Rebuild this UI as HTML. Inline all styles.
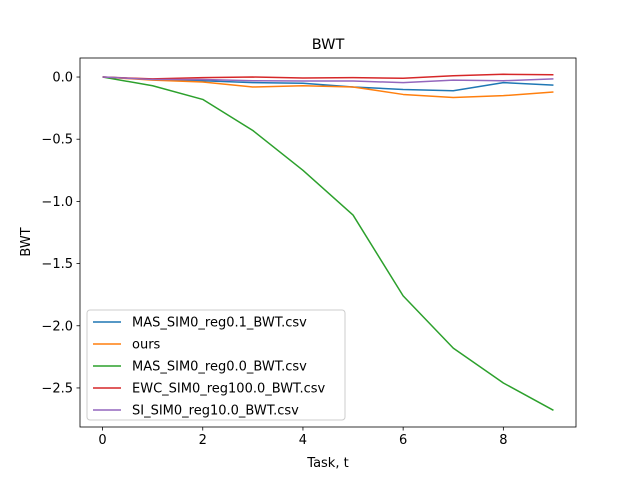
<!DOCTYPE html>
<html><head><meta charset="utf-8"><style>
body{margin:0;background:#fff;font-family:"Liberation Sans","DejaVu Sans",sans-serif}
svg text{font-family:"DejaVu Sans","Liberation Sans",sans-serif;font-size:13px;fill:#000}
</style></head><body>
<svg id="c" width="640" height="480">
<rect width="640" height="480" fill="#fff"/>
</svg>
<script>
const tasks=[0,1,2,3,4,5,6,7,8,9];
const seriesNames=["MAS_SIM0_reg0.1_BWT.csv","ours","MAS_SIM0_reg0.0_BWT.csv","EWC_SIM0_reg100.0_BWT.csv","SI_SIM0_reg10.0_BWT.csv"];
const masReg01=[0,-0.02,-0.03,-0.045,-0.05,-0.08,-0.1,-0.11,-0.045,-0.065];
const ours=[0,-0.025,-0.04,-0.08,-0.07,-0.08,-0.14,-0.165,-0.15,-0.12];
const masReg00=[0,-0.07,-0.18,-0.43,-0.75,-1.11,-1.76,-2.18,-2.46,-2.68];
const ewc=[0,-0.015,-0.005,0,-0.008,-0.005,-0.01,0.01,0.022,0.018];
const si=[0,-0.02,-0.02,-0.03,-0.032,-0.032,-0.045,-0.025,-0.03,-0.015];
const colors=["#1f77b4","#ff7f0e","#2ca02c","#d62728","#9467bd"];
const xTicks=[0,2,4,6,8];
const yTicks=[0,-0.5,-1,-1.5,-2,-2.5];
const yTickLabels=["0.0","−0.5","−1.0","−1.5","−2.0","−2.5"];
const L=80,R=576,T=58,B=427,xmin=-0.45,xmax=9.45,ymin=-2.814,ymax=0.153;
const X=v=>L+(v-xmin)/(xmax-xmin)*(R-L);
const Y=v=>B-(v-ymin)/(ymax-ymin)*(B-T);
const svg=document.getElementById('c');const NS="http://www.w3.org/2000/svg";
function mk(t,a,p){const e=document.createElementNS(NS,t);for(const k in a)e.setAttribute(k,a[k]);(p||svg).appendChild(e);return e;}
const data=[masReg01,ours,masReg00,ewc,si];
data.forEach((s,i)=>{
 const p=mk('polyline',{points:s.map((v,j)=>X(tasks[j])+','+Y(v)).join(' '),fill:'none',stroke:colors[i],'stroke-width':1.5,'stroke-linejoin':'round'});
 
 
});
const frame=mk('rect',{x:L,y:T,width:R-L,height:B-T,fill:'none',stroke:'#000','stroke-width':0.8});


xTicks.forEach(v=>{
 mk('line',{x1:X(v),x2:X(v),y1:B,y2:B+3.5,stroke:'#000','stroke-width':0.8});
 const t=mk('text',{x:X(v),y:B+17,'text-anchor':'middle'});t.textContent=v;
 
 
});
yTicks.forEach((v,i)=>{
 mk('line',{x1:L-3.5,x2:L,y1:Y(v),y2:Y(v),stroke:'#000','stroke-width':0.8});
 const t=mk('text',{x:L-7,y:Y(v)+4.5,'text-anchor':'end'});t.textContent=yTickLabels[i];
 
 
});
const ti=mk('text',{x:328,y:49,'text-anchor':'middle','font-size':'14.5'});ti.textContent='BWT';ti.style.fontSize='14.5px';


const xl=mk('text',{x:328,y:467,'text-anchor':'middle'});xl.textContent='Task, t';


const yl=mk('text',{x:0,y:0,'text-anchor':'middle',transform:'translate(30,242) rotate(-90)'});yl.textContent='BWT';


const lg=mk('g',{});


mk('rect',{x:87,y:310,width:258,height:110,rx:3,fill:'#fff','fill-opacity':0.8,stroke:'#ccc'},lg);
seriesNames.forEach((n,i)=>{
 const y=322+i*22;
 const ln=mk('line',{x1:93,x2:121,y1:y,y2:y,stroke:colors[i],'stroke-width':1.5},lg);
 
 
 const t=mk('text',{x:132,y:y+4.5},lg);t.textContent=n;
 
 
});
</script>
</body></html>
